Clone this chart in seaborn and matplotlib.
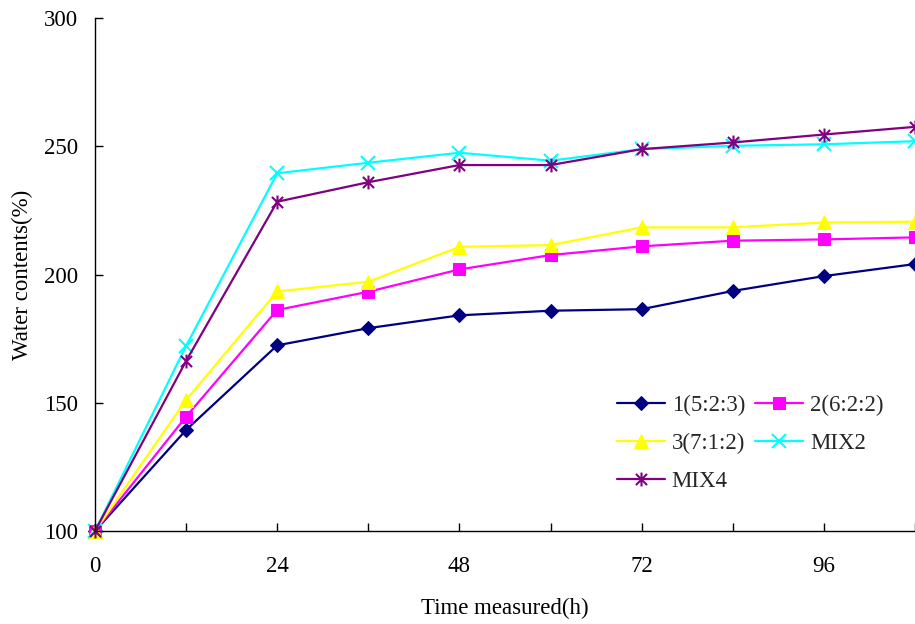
import matplotlib
matplotlib.use("Agg")
import matplotlib.pyplot as plt
from matplotlib.path import Path
import seaborn as sns
import pandas as pd

hours = [0, 12, 24, 36, 48, 60, 72, 84, 96, 108]
series_names = ["1(5:2:3)", "2(6:2:2)", "3(7:1:2)", "MIX2", "MIX4"]
s1 = [100, 139.4, 172.4, 179.1, 184.1, 185.9, 186.5, 193.6, 199.4, 204.1]
s2 = [100, 144.6, 186.2, 193.3, 202.0, 207.6, 211.0, 213.2, 213.7, 214.5]
s3 = [100, 151.1, 193.4, 197.2, 210.8, 211.5, 218.4, 218.4, 220.3, 220.6]
mix2 = [100, 172.2, 239.5, 243.6, 247.5, 244.4, 248.9, 250.2, 250.8, 252.0]
mix4 = [100, 166.3, 228.4, 236.0, 242.7, 242.7, 248.9, 251.5, 254.6, 257.6]
x_ticks = [0, 24, 48, 72, 96]
y_ticks = [100, 150, 200, 250, 300]

sns.set_theme(style="white")
plt.rcParams["font.family"] = ["Liberation Serif", "DejaVu Serif"]

FS = 16.5

# asterisk marker: an x crossed by a vertical stroke
star_path = Path(
    [(-1, -1), (1, 1), (-1, 1), (1, -1), (0, -1.25), (0, 1.25)],
    [Path.MOVETO, Path.LINETO, Path.MOVETO, Path.LINETO, Path.MOVETO, Path.LINETO],
)

styles = [
    dict(color="#000080", marker="D", markersize=7.5),
    dict(color="#FF00FF", marker="s", markersize=8),
    dict(color="#FFFF00", marker="^", markersize=9.5),
    dict(color="#00FFFF", marker="x", markersize=9.5, markeredgewidth=1.5),
    dict(color="#800080", marker=star_path, markersize=10, markeredgewidth=1.5),
]

df = pd.DataFrame({"hours": hours})
for name, vals in zip(series_names, [s1, s2, s3, mix2, mix4]):
    df[name] = vals

fig = plt.figure(figsize=(9.15, 6.24), dpi=100)
ax = fig.add_axes([0.1038, 0.149, 0.8962, 0.822])

for name, st in zip(series_names, styles):
    sns.lineplot(data=df, x="hours", y=name, ax=ax, label=name,
                 linewidth=1.6, clip_on=False,
                 markeredgecolor=st["color"], **st)

ax.set_xlim(0, 108)
ax.set_ylim(100, 300)
ax.set_xticks(list(range(0, 109, 12)))
ax.set_xticklabels([str(h) if h in x_ticks else "" for h in range(0, 109, 12)])
ax.set_yticks(y_ticks)
ax.tick_params(axis="both", direction="in", length=6, width=1, color="black",
               labelsize=FS, labelcolor="black")
ax.tick_params(axis="x", pad=18, bottom=True)
ax.tick_params(axis="y", pad=12, left=True)

for side in ["top", "right"]:
    ax.spines[side].set_visible(False)
for side in ["left", "bottom"]:
    ax.spines[side].set_color("black")
    ax.spines[side].set_linewidth(1)

ax.set_xlabel("Time measured(h)", fontsize=FS, color="black", labelpad=15)
ax.set_ylabel("Water contents(%)", fontsize=FS, color="black", labelpad=8)

handles, labels = ax.get_legend_handles_labels()
order = [0, 2, 4, 1, 3]
ax.legend([handles[i] for i in order], [labels[i] for i in order],
          ncol=2, frameon=False, fontsize=FS, loc="upper left",
          bbox_to_anchor=(0.625, 0.284), handlelength=2.1, handletextpad=0.3,
          columnspacing=0.45, labelspacing=0.75, borderaxespad=0)

fig.savefig("out.png", dpi=100, facecolor="white")
